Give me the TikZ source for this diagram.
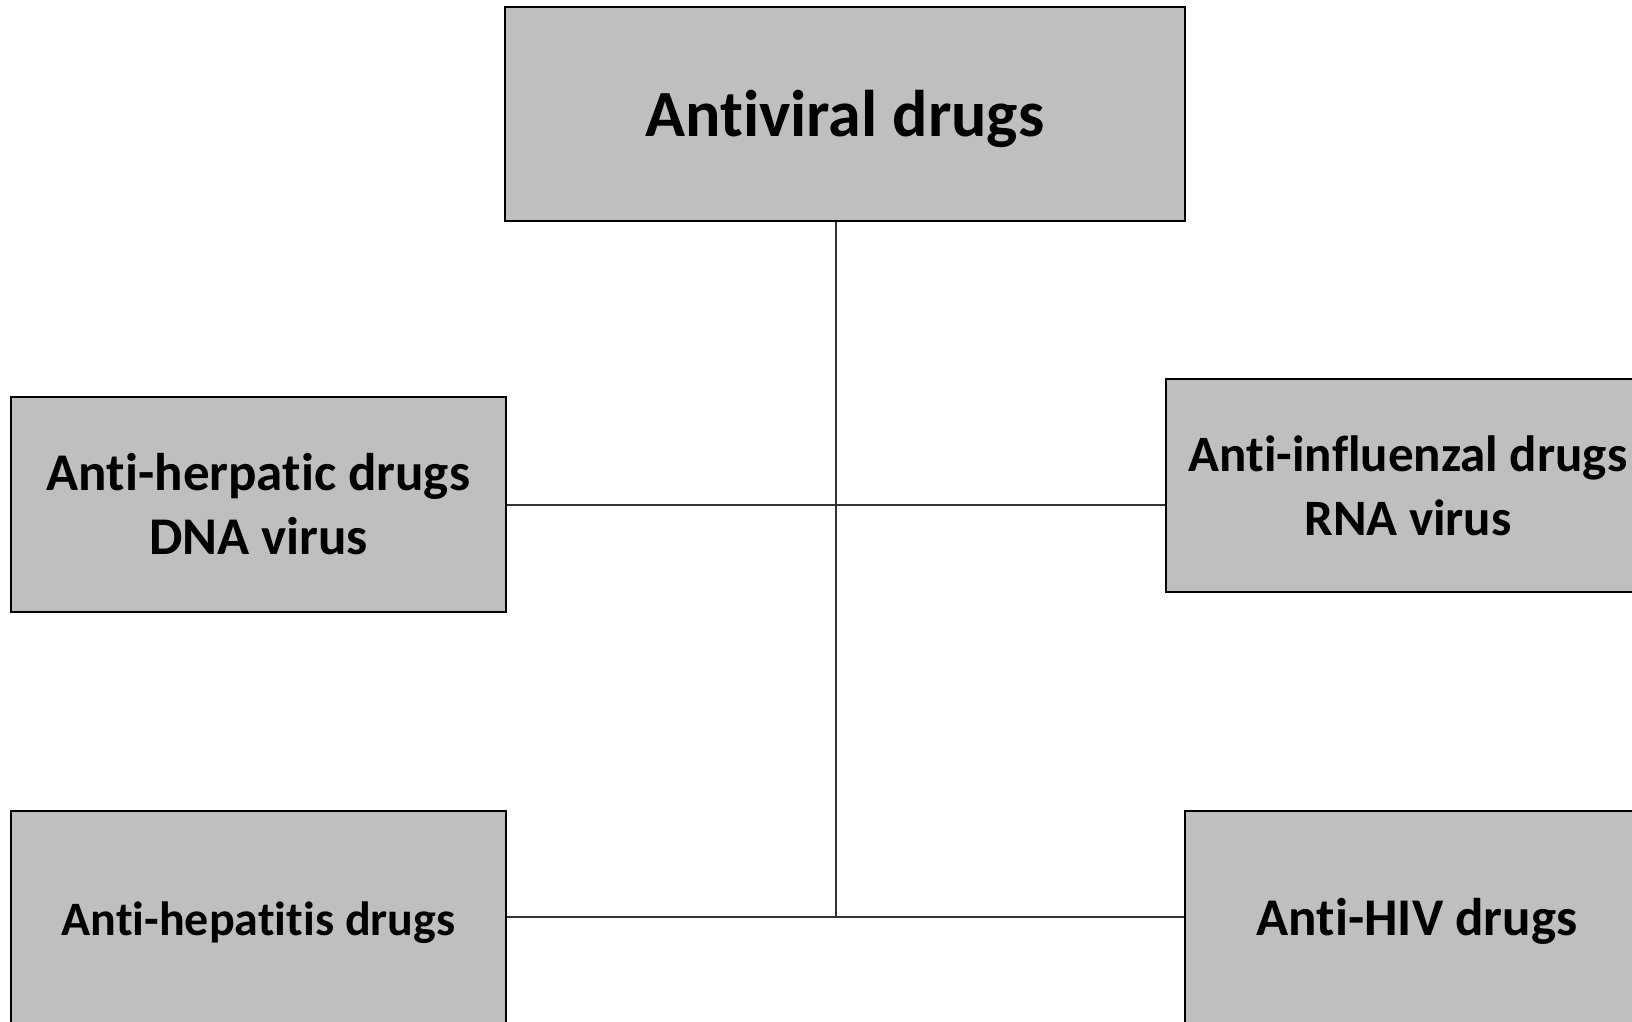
\documentclass[tikz,border=0pt]{standalone}
\usepackage{fontspec}
\setmainfont{Carlito}[Ligatures=NoCommon]
\begin{document}
\begin{tikzpicture}[x=1pt,y=-1pt,
  box/.style={draw=black,line width=2.5pt,fill=boxgray,rectangle,inner sep=0pt,
    align=center,font=\bfseries\fontsize{52}{64}\selectfont},
  conn/.style={draw=black!80,line width=1.3pt}]
\definecolor{boxgray}{RGB}{191,191,191}
\useasboundingbox (0,0) rectangle (1632,1022);
\clip (0,0) rectangle (1632,1022);
\node[box,minimum width=680,minimum height=214,text height=58pt,text depth=14pt,font=\bfseries\fontsize{66}{78}\selectfont] (tb) at (845,114) {Antiviral drugs};
\node[box,minimum width=495,minimum height=215,font=\bfseries\fontsize{53}{64}\selectfont] (lh) at (258.5,504.5) {Anti-herpatic drugs\\DNA virus};
\node[box,minimum width=484,minimum height=213,font=\bfseries\fontsize{51}{64}\selectfont] (rh) at (1408,485.5) {Anti-influenzal drugs\\RNA virus};
\node[box,minimum width=495,minimum height=214,text height=42pt,text depth=8pt,font=\bfseries\fontsize{48}{60}\selectfont] (lb) at (258.5,918) {Anti-hepatitis drugs};
\node[box,minimum width=464,minimum height=214,text height=42pt,text depth=8pt,font=\bfseries\fontsize{53}{64}\selectfont] (rb) at (1417,918) {Anti-HIV drugs};
\coordinate (j1) at (836,505);
\coordinate (j2) at (836,917);
\draw[conn] (j2) -- (j2 |- tb.south);
\draw[conn] (lh.east |- j1) -- (j1 -| rh.west);
\draw[conn] (lb.east |- j2) -- (j2 -| rb.west);
\end{tikzpicture}
\end{document}
